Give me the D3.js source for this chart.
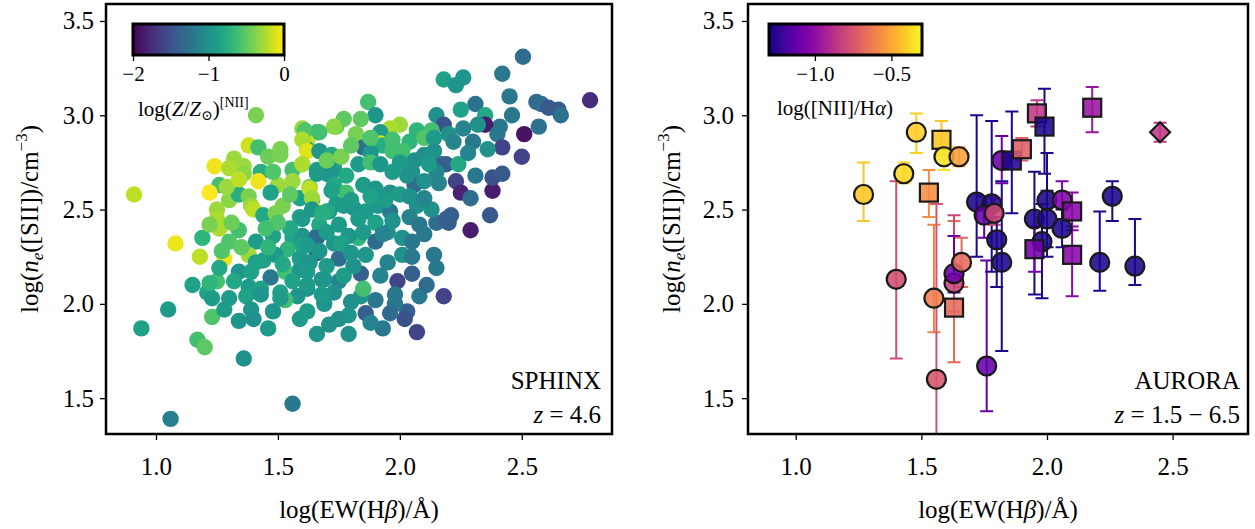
<!DOCTYPE html>
<html>
<head>
<meta charset="utf-8">
<script src="https://cdn.jsdelivr.net/npm/d3@7"></script>
<style>
body { margin: 0; background: #fff; }
svg text { font-family: "Liberation Serif", "DejaVu Serif", serif; fill: #000; }
</style>
</head>
<body>
<svg id="svg"></svg>
<script>
var larghezza = 1255;
var altezza = 529;
var serif = "Liberation Serif, DejaVu Serif, serif";

var yDomain = [1.31, 3.59];
var xDomainL = [0.795, 2.87];
var xDomainR = [0.81, 2.80];
var xTicks = [1.0, 1.5, 2.0, 2.5];
var yTicks = [1.5, 2.0, 2.5, 3.0, 3.5];
var zDomain = [-2, 0];
var zTicks = [-2, -1, 0];
var n2Domain = [-1.3, -0.3];
var n2Ticks = [-1.0, -0.5];

// SPHINX: log EW(Hb), log ne, log Z
var sphinxEW = [
 1.41,1.60,1.62,1.66,1.74,1.77,1.38,1.42,1.51,1.62,
 1.62,1.32,1.24,1.36,1.46,1.51,1.60,1.56,1.43,1.30,
 1.36,1.26,1.42,1.50,1.56,1.63,1.66,1.70,1.73,1.22,
 0.91,1.30,1.34,1.38,1.39,1.47,1.52,1.59,1.64,1.65,
 1.71,1.74,1.25,1.40,1.44,1.49,1.59,1.25,1.26,1.34,
 1.19,1.30,1.08,1.41,1.48,1.56,1.60,1.66,1.60,1.54,
 1.66,1.73,1.18,1.28,1.38,1.44,1.49,1.60,1.75,1.34,
 1.39,1.47,1.53,1.59,1.68,1.75,1.25,1.38,1.43,1.21,
 1.23,1.37,1.51,1.58,1.62,1.53,1.05,2.505,2.42,2.18,
 2.23,2.26,2.45,2.31,2.78,2.56,2.58,2.61,2.65,2.66,
 2.25,2.35,2.46,2.41,2.35,2.51,2.57,2.40,2.42,2.36,
 2.30,2.50,1.87,1.90,2.00,2.15,2.18,2.20,2.22,2.13,
 2.07,1.96,1.92,1.84,1.73,1.61,1.82,1.92,1.85,1.93,
 2.04,2.10,2.14,2.19,2.17,2.24,2.23,2.25,2.38,2.31,
 2.38,2.42,2.29,2.16,2.37,2.29,2.21,2.20,2.15,2.10,
 2.14,2.15,2.05,1.99,2.08,2.18,2.03,2.01,2.01,1.95,
 1.90,1.84,1.90,1.84,1.86,1.80,1.83,1.85,2.05,2.06,
 1.67,1.60,1.62,1.67,1.72,1.76,1.88,1.97,2.01,2.06,
 2.10,2.14,1.60,1.66,1.72,1.78,1.83,1.88,1.92,1.97,
 2.03,2.10,1.63,1.64,1.73,1.78,1.85,1.90,1.96,2.00,
 1.60,1.64,1.70,1.77,1.81,1.86,1.91,1.96,2.07,2.13,
 2.19,1.67,1.75,1.79,1.66,1.62,1.67,1.59,1.63,1.81,
 1.86,1.62,1.69,1.62,1.73,1.79,0.94,1.17,1.20,1.23,
 1.06,1.34,1.36,1.46,1.56,1.59,1.66,1.75,1.79,1.93,
 2.02,2.07,1.98,1.69,1.51,1.43,1.30,1.39,1.22,1.26,
 1.72,1.80,1.88,1.94,2.04,2.10,1.83,1.90,1.97,2.04,
 2.08,1.70,1.76,1.85,1.93,2.05,1.70,1.77,1.95,2.05,
 1.92,1.98,1.68,1.56,1.55,1.50,1.45,1.46,1.52,1.41,
 1.35,1.31,1.29,1.34,1.48,1.55,1.70,1.80,1.88,1.97,
 2.00,2.15,2.12,2.28,2.26,2.32,1.68,1.22,1.27,1.32,
 1.15,1.28,1.40,1.48,1.62,1.71,1.88,1.96,2.11,1.80
];
var sphinxNe = [
 3.00,2.93,2.90,2.91,2.94,2.98,2.84,2.83,2.82,2.86,
 2.82,2.77,2.73,2.73,2.78,2.79,2.74,2.71,2.70,2.72,
 2.69,2.63,2.65,2.63,2.65,2.62,2.69,2.69,2.72,2.59,
 2.58,2.55,2.58,2.57,2.52,2.59,2.52,2.56,2.55,2.50,
 2.49,2.53,2.50,2.50,2.47,2.48,2.46,2.45,2.40,2.39,
 2.35,2.33,2.32,2.33,2.36,2.35,2.36,2.36,2.31,2.29,
 2.27,2.32,2.25,2.24,2.26,2.23,2.26,2.23,2.24,2.17,
 2.17,2.14,2.17,2.18,2.13,2.12,2.12,2.09,2.08,2.06,
 2.03,2.04,2.06,2.04,2.08,2.02,1.97,3.31,3.22,3.19,
 3.16,3.20,3.10,3.06,3.08,3.07,3.06,3.04,3.03,3.00,
 3.03,3.00,3.00,2.94,2.95,2.90,2.94,2.90,2.83,2.82,
 2.86,2.78,3.07,3.00,2.95,3.00,2.95,2.90,2.86,2.92,
 2.92,2.93,2.91,2.98,2.94,2.92,2.90,2.85,2.83,2.84,
 2.86,2.88,2.88,2.74,2.74,2.74,2.65,2.59,2.60,2.68,
 2.67,2.69,2.56,2.64,2.47,2.39,2.47,2.43,2.43,2.37,
 2.26,2.19,2.16,2.12,2.04,2.04,1.96,2.26,2.35,2.38,
 2.33,2.16,2.02,2.04,1.95,2.01,2.35,2.08,2.70,2.63,
 2.91,2.87,2.81,2.81,2.79,2.78,2.80,2.81,2.81,2.76,
 2.79,2.81,2.74,2.71,2.70,2.68,2.74,2.75,2.74,2.70,
 2.68,2.65,2.61,2.56,2.63,2.59,2.63,2.61,2.59,2.58,
 2.45,2.50,2.49,2.52,2.51,2.49,2.52,2.49,2.52,2.50,
 2.45,2.42,2.42,2.36,2.35,2.31,2.28,2.24,2.22,2.20,
 2.26,2.17,2.13,2.10,2.06,1.94,1.87,1.81,1.77,1.93,
 1.39,1.91,1.71,1.87,1.47,1.92,1.84,1.92,1.84,1.87,
 1.92,1.85,2.00,2.00,2.03,2.05,2.03,1.97,2.11,2.19,
 2.60,2.55,2.57,2.55,2.57,2.56,2.45,2.43,2.44,2.46,
 2.42,2.38,2.32,2.38,2.37,2.33,2.20,2.15,2.22,2.25,
 2.15,2.05,2.05,2.12,2.40,2.43,2.40,2.30,2.21,2.22,
 2.30,2.43,2.62,2.66,2.70,2.58,2.76,2.84,2.88,2.87,
 2.75,2.70,2.74,2.80,2.93,2.95,2.48,2.42,2.28,2.12,
 2.10,1.97,1.92,1.96,1.96,1.89,1.90,1.95,2.10,2.27
];
var sphinxZ = [
 -0.4,-0.3,-0.25,-0.7,-0.45,-0.5,-0.15,-0.6,-0.4,-0.2,
 -0.8,-0.3,-0.05,-0.3,-0.45,-0.4,-0.35,-0.6,-0.75,-0.25,
 -0.35,-0.6,-0.05,-0.3,-0.3,-0.45,-0.9,-0.95,-0.9,0.0,
 -0.2,-0.35,-0.75,-0.4,-0.3,-0.85,-0.4,-0.85,-0.9,-0.05,
 -0.95,-0.9,-0.3,-0.2,-0.8,-0.4,-0.85,-0.25,-0.25,-0.6,
 -0.7,-0.55,-0.05,-0.9,-0.85,-0.85,-0.95,-1.4,-0.85,-0.7,
 -1.5,-0.95,-0.2,-0.05,-0.3,-0.85,-0.9,-0.95,-1.3,-0.95,
 -0.85,-1.2,-0.6,-0.95,-1.0,-1.1,-0.6,-0.9,-0.85,-0.85,
 -0.9,-0.85,-0.85,-0.95,-1.0,-0.6,-0.9,-1.3,-1.2,-0.85,
 -0.95,-0.95,-1.2,-1.25,-1.75,-1.3,-1.3,-1.45,-1.45,-1.25,
 -0.85,-0.8,-1.2,-1.2,-1.85,-1.9,-1.25,-1.2,-1.6,-1.0,
 -1.2,-1.6,-0.6,-0.95,-0.3,-1.0,-1.5,-1.0,-1.1,-0.6,
 -0.7,-0.25,-0.9,-0.5,-0.35,-0.55,-0.4,-0.1,-1.3,-0.75,
 -0.7,-0.55,-0.9,-1.4,-1.4,-0.8,-1.6,-1.8,-1.85,-1.2,
 -1.5,-1.45,-1.3,-1.1,-1.45,-1.85,-1.4,-1.4,-1.3,-1.2,
 -1.2,-1.2,-1.4,-1.6,-1.2,-1.6,-1.4,-1.0,-1.0,-1.0,
 -1.3,-1.4,-1.2,-1.0,-1.4,-1.0,-0.7,-0.6,-1.0,-1.3,
 -0.6,-0.25,-0.1,-0.95,-0.8,-0.4,-0.95,-0.6,-0.6,-1.0,
 -1.0,-1.0,-0.25,-0.9,-0.95,-0.8,-0.9,-0.6,-0.95,-0.9,
 -1.0,-1.0,-0.2,-0.3,-0.8,-0.6,-0.9,-0.95,-1.0,-0.9,
 -0.9,-0.95,-0.8,-0.9,-0.95,-0.9,-0.95,-1.2,-1.0,-1.0,
 -1.4,-0.8,-0.9,-0.95,-1.3,-0.9,-0.95,-0.9,-0.95,-1.0,
 -0.95,-0.9,-0.95,-0.9,-1.0,-0.95,-0.85,-0.6,-0.5,-0.55,
 -1.15,-0.95,-1.0,-0.9,-1.2,-0.9,-0.95,-1.0,-1.0,-1.2,
 -1.5,-1.6,-1.2,-0.95,-0.9,-0.95,-0.9,-0.95,-0.7,-0.8,
 -0.85,-0.9,-0.85,-0.9,-1.0,-1.1,-0.9,-0.85,-1.0,-1.1,
 -1.2,-0.9,-0.85,-0.9,-1.1,-1.2,-0.9,-0.9,-1.1,-1.2,
 -1.1,-1.2,-0.9,-0.85,-0.8,-0.55,-0.6,-0.7,-0.8,-0.85,
 -0.5,-0.45,-0.3,-0.2,-0.55,-0.5,-0.45,-0.5,-0.55,-0.6,
 -0.9,-1.1,-0.9,-1.1,-1.1,-1.0,-0.75,-0.4,-0.55,-0.8,
 -0.85,-0.9,-1.0,-0.95,-0.9,-1.0,-1.1,-1.3,-1.3,-0.95
];

// AURORA: log EW(Hb), log ne, lower / upper errors, log [NII]/Ha, marker
var auroraEW = [1.27,1.48,1.43,1.58,1.59,1.65,1.53,1.40,1.55,1.56,
                1.63,1.63,1.63,1.66,1.76,1.72,1.78,1.75,1.79,1.80,
                1.82,1.82,1.86,1.90,1.96,1.99,1.95,1.98,2.00,2.00,
                1.95,2.06,2.06,2.10,2.10,2.21,2.26,2.35,2.18,2.45];
var auroraNe = [2.58,2.91,2.69,2.87,2.78,2.78,2.59,2.13,2.03,1.60,
                1.98,2.11,2.16,2.22,1.67,2.54,2.53,2.47,2.48,2.34,
                2.22,2.76,2.76,2.82,3.01,2.94,2.45,2.33,2.55,2.45,
                2.29,2.55,2.40,2.49,2.26,2.22,2.57,2.20,3.04,2.91];
var auroraLo = [0.14,0.11,0.05,0.08,0.07,0.05,0.13,0.42,0.18,0.45,
                0.29,0.15,0.10,0.13,0.24,0.29,0.36,0.12,0.06,0.25,
                0.47,0.12,0.28,0.06,0.07,0.25,0.40,0.30,0.30,0.15,
                0.12,0.10,0.10,0.10,0.22,0.15,0.13,0.10,0.13,0.05];
var auroraHi = [0.17,0.10,0.06,0.10,0.07,0.05,0.12,0.52,0.39,0.93,
                0.46,0.36,0.20,0.13,0.56,0.46,0.44,0.10,0.08,0.12,
                0.43,0.13,0.26,0.06,0.07,0.20,0.25,0.20,0.25,0.15,
                0.12,0.10,0.10,0.10,0.15,0.27,0.08,0.25,0.11,0.05];
var auroraN2 = [-0.42,-0.40,-0.38,-0.42,-0.35,-0.52,-0.57,-0.78,-0.62,-0.75,
                -0.68,-0.80,-1.10,-0.68,-1.12,-1.28,-1.28,-1.12,-0.80,-1.28,
                -1.28,-1.10,-1.27,-0.72,-0.85,-1.28,-1.28,-1.28,-1.28,-1.28,
                -1.08,-1.05,-1.28,-1.02,-1.02,-1.28,-1.28,-1.28,-0.97,-0.85];
var auroraShape = ["o","o","o","s","o","o","s","o","o","o",
                   "s","o","o","o","o","o","o","o","o","o",
                   "o","o","s","s","s","s","o","o","o","o",
                   "s","o","o","s","s","o","o","o","s","d"];

var svg = d3.select("#svg").attr("width", larghezza).attr("height", altezza);
var defs = svg.append("defs");

var yScale = d3.scaleLinear().domain(yDomain).range([434, 4]);
var xLeft = d3.scaleLinear().domain(xDomainL).range([106, 612]);
var xRight = d3.scaleLinear().domain(xDomainR).range([748, 1248]);
var zColor = d3.scaleSequential(d3.interpolateViridis).domain(zDomain);
var n2Color = d3.scaleSequential(d3.interpolatePlasma).domain(n2Domain);

drawAxes(svg, xLeft, yScale, 94);
drawAxes(svg, xRight, yScale, 734);

drawSphinx(svg, xLeft, yScale);
drawAurora(svg, xRight, yScale);

drawFrame(svg, xLeft, yScale);
drawFrame(svg, xRight, yScale);

drawColorbar(svg, "cbZ", d3.interpolateViridis, d3.scaleLinear().domain(zDomain).range([133, 284]), zTicks, d3.format("d"));
drawColorbar(svg, "cbN2", d3.interpolatePlasma, d3.scaleLinear().domain(n2Domain).range([769, 922]), n2Ticks, d3.format(".1f"));

drawLabels(svg);


function clipFor(id, x, y) {
    defs.append("clipPath").attr("id", id).append("rect")
        .attr("x", x.range()[0]).attr("y", y.range()[1])
        .attr("width", x.range()[1] - x.range()[0])
        .attr("height", y.range()[0] - y.range()[1]);
}

function drawFrame(svg, x, y) {
    svg.append("rect")
        .attr("x", x.range()[0]).attr("y", y.range()[1])
        .attr("width", x.range()[1] - x.range()[0])
        .attr("height", y.range()[0] - y.range()[1])
        .style("fill", "none")
        .style("stroke", "black")
        .style("stroke-width", "2.5px");
}

function drawAxes(svg, x, y, labelX) {
    var gx = svg.append("g")
        .attr("transform", "translate(0," + y.range()[0] + ")")
        .call(d3.axisBottom(x).tickValues(xTicks).tickFormat(d3.format(".1f")).tickSize(6).tickPadding(17));
    gx.select(".domain").remove();
    gx.attr("font-family", serif).attr("font-size", 25);
    gx.selectAll("line").attr("stroke", "black").attr("stroke-width", 1.3);

    var gy = svg.append("g")
        .attr("transform", "translate(" + x.range()[0] + ",0)")
        .call(d3.axisLeft(y).tickValues(yTicks).tickFormat(d3.format(".1f")).tickSize(6).tickPadding(x.range()[0] - 6 - labelX));
    gy.select(".domain").remove();
    gy.attr("font-family", serif).attr("font-size", 25);
    gy.selectAll("line").attr("stroke", "black").attr("stroke-width", 1.3);
}

function drawSphinx(svg, x, y) {
    clipFor("clipL", x, y);
    var g = svg.append("g").attr("clip-path", "url(#clipL)");
    sphinxEW.forEach(function (ew, i) {
        g.append("circle")
            .attr("cx", x(ew))
            .attr("cy", y(sphinxNe[i]))
            .attr("r", 8.2)
            .style("fill", zColor(sphinxZ[i]));
    });
}

function drawAurora(svg, x, y) {
    clipFor("clipR", x, y);
    var g = svg.append("g").attr("clip-path", "url(#clipR)");

    // error bars first
    auroraEW.forEach(function (ew, i) {
        var cx = x(ew);
        var top = y(auroraNe[i] + auroraHi[i]);
        var bot = y(auroraNe[i] - auroraLo[i]);
        var col = n2Color(auroraN2[i]);
        g.append("path")
            .attr("d", "M" + cx + " " + top + " L" + cx + " " + bot
                + " M" + (cx - 6.5) + " " + top + " L" + (cx + 6.5) + " " + top
                + " M" + (cx - 6.5) + " " + bot + " L" + (cx + 6.5) + " " + bot)
            .style("stroke", col)
            .style("stroke-width", "2px")
            .style("fill", "none");
    });

    auroraEW.forEach(function (ew, i) {
        var cx = x(ew);
        var cy = y(auroraNe[i]);
        var col = n2Color(auroraN2[i]);
        var m;
        if (auroraShape[i] === "s") {
            m = g.append("rect").attr("x", cx - 9).attr("y", cy - 9).attr("width", 18).attr("height", 18);
        }
        else if (auroraShape[i] === "d") {
            m = g.append("path").attr("d", "M" + cx + " " + (cy - 10) + " L" + (cx + 10) + " " + cy
                + " L" + cx + " " + (cy + 10) + " L" + (cx - 10) + " " + cy + " Z");
        }
        else {
            m = g.append("circle").attr("cx", cx).attr("cy", cy).attr("r", 9.5);
        }
        m.style("fill", col)
            .style("fill-opacity", 0.88)
            .style("stroke", "#1a1a1a")
            .style("stroke-width", "2.2px");
    });
}

function drawColorbar(svg, id, interp, scale, ticks, fmt) {
    var grad = defs.append("linearGradient").attr("id", id)
        .attr("x1", "0%").attr("x2", "100%").attr("y1", "0%").attr("y2", "0%");
    d3.range(0, 1.0001, 0.05).forEach(function (t) {
        grad.append("stop").attr("offset", (t * 100) + "%").attr("stop-color", interp(t));
    });
    var x0 = scale.range()[0], x1 = scale.range()[1];
    svg.append("rect")
        .attr("x", x0).attr("y", 24)
        .attr("width", x1 - x0).attr("height", 31)
        .style("fill", "url(#" + id + ")")
        .style("stroke", "black")
        .style("stroke-width", "3px");

    var g = svg.append("g")
        .attr("transform", "translate(0,56)")
        .call(d3.axisBottom(scale).tickValues(ticks).tickFormat(fmt).tickSize(5).tickPadding(5));
    g.select(".domain").remove();
    g.attr("font-family", serif).attr("font-size", 21);
    g.selectAll("line").attr("stroke", "black").attr("stroke-width", 1.3);
}

function drawLabels(svg) {
    // y labels
    [38, 680].forEach(function (lx) {
        var t = svg.append("text")
            .attr("transform", "translate(" + lx + ",219) rotate(-90)")
            .attr("text-anchor", "middle")
            .attr("font-family", serif)
            .attr("font-size", 25);
        t.append("tspan").text("log(");
        t.append("tspan").attr("font-style", "italic").text("n");
        t.append("tspan").attr("font-style", "italic").attr("font-size", 17).attr("dy", 5).text("e");
        t.append("tspan").attr("dy", -5).text("([SII])/cm");
        t.append("tspan").attr("font-size", 17).attr("dy", -11).text("\u22123");
        t.append("tspan").attr("dy", 11).text(")");
    });

    // x labels
    [359, 998].forEach(function (cx) {
        var t = svg.append("text")
            .attr("x", cx).attr("y", 518)
            .attr("text-anchor", "middle")
            .attr("font-family", serif)
            .attr("font-size", 25);
        t.append("tspan").text("log(EW(H");
        t.append("tspan").attr("font-style", "italic").text("\u03b2");
        t.append("tspan").text(")/\u00c5)");
    });

    // colorbar labels
    var c1 = svg.append("text").attr("x", 138).attr("y", 116).attr("font-family", serif).attr("font-size", 21);
    c1.append("tspan").text("log(");
    c1.append("tspan").attr("font-style", "italic").text("Z");
    c1.append("tspan").text("/");
    c1.append("tspan").attr("font-style", "italic").text("Z");
    c1.append("tspan").attr("font-size", 14).attr("dy", 4).text("\u2299");
    c1.append("tspan").attr("dy", -4).text(")");
    c1.append("tspan").attr("font-size", 14).attr("dy", -9).text("[NII]");

    var c2 = svg.append("text").attr("x", 777).attr("y", 115).attr("font-family", serif).attr("font-size", 21);
    c2.append("tspan").text("log([NII]/H");
    c2.append("tspan").attr("font-style", "italic").text("\u03b1");
    c2.append("tspan").text(")");

    // annotations
    svg.append("text").attr("x", 601).attr("y", 389).attr("text-anchor", "end")
        .attr("font-family", serif).attr("font-size", 25).text("SPHINX");
    var z1 = svg.append("text").attr("x", 601).attr("y", 423).attr("text-anchor", "end")
        .attr("font-family", serif).attr("font-size", 25);
    z1.append("tspan").attr("font-style", "italic").text("z");
    z1.append("tspan").text(" = 4.6");

    svg.append("text").attr("x", 1240).attr("y", 389).attr("text-anchor", "end")
        .attr("font-family", serif).attr("font-size", 25).text("AURORA");
    var z2 = svg.append("text").attr("x", 1240).attr("y", 423).attr("text-anchor", "end")
        .attr("font-family", serif).attr("font-size", 25);
    z2.append("tspan").attr("font-style", "italic").text("z");
    z2.append("tspan").text(" = 1.5 \u2212 6.5");
}
</script>
</body>
</html>
